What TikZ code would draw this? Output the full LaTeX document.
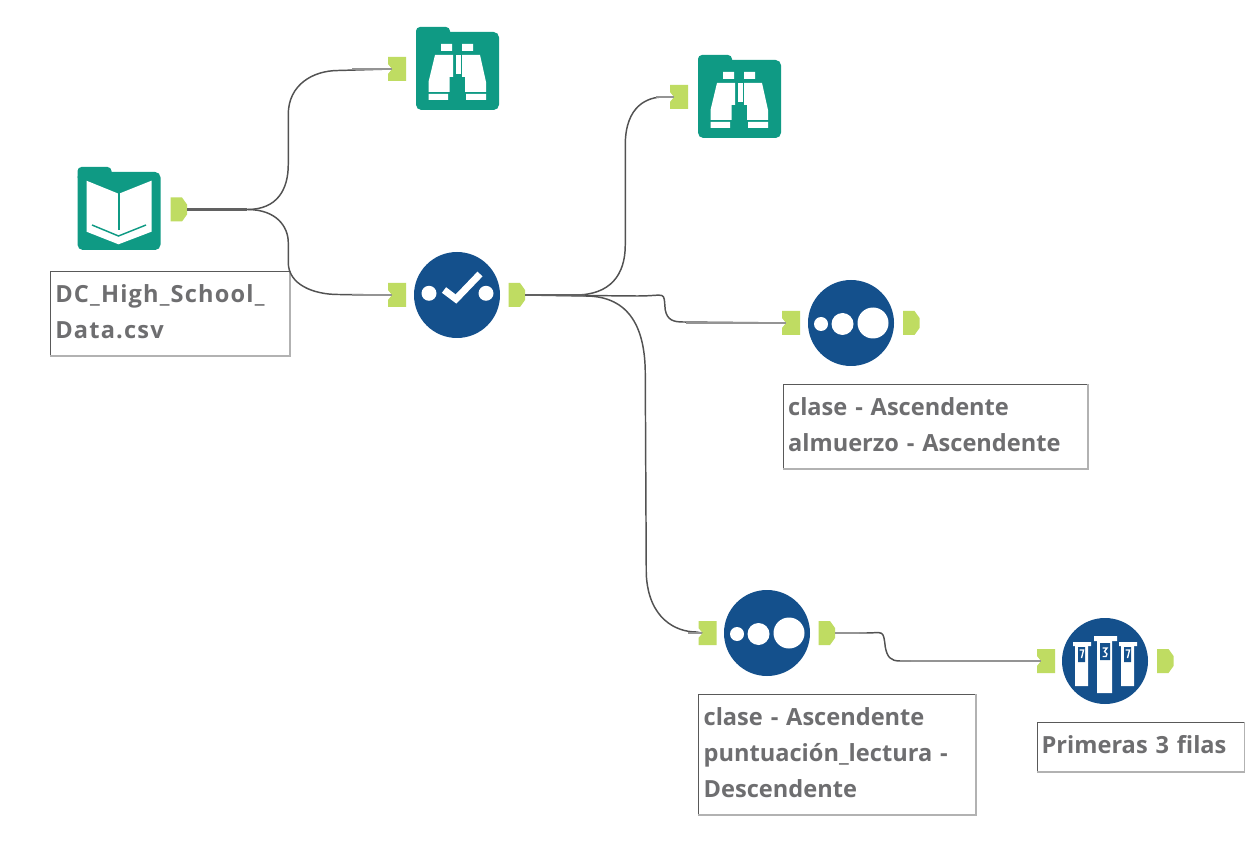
\documentclass[tikz,border=0pt]{standalone}
\usepackage{fontspec}
\setmainfont{Open Sans}
\definecolor{folderteal}{HTML}{0F9A84}
\definecolor{toolblue}{HTML}{14508C}
\definecolor{portgreen}{HTML}{BFDC62}
\definecolor{labelgray}{HTML}{6E6E70}
\newcommand{\inport}[3]{%
  \node[inportnode] (#1) at (#2,#3) {};
  \fill[portgreen,shift={(#2,#3)}] (-9,-12) -- (9,-12) -- (9,12) -- (-9,12) -- (-9,5) -- (-5,0) -- (-9,-5) -- cycle;}
\newcommand{\outport}[3]{%
  \node[outportnode] (#1) at (#2,#3) {};
  \fill[portgreen,shift={(#2,#3)}] (-8.5,-12) -- (3,-12) -- (8,-5) -- (8,5) -- (3,12) -- (-8.5,12) -- cycle;}
\newcommand{\foldershape}{%
  \fill[folderteal,rounded corners=4pt] (0,5) rectangle (83,83);
  \fill[folderteal,rounded corners=3pt] (0,0) rectangle (34,14);}
\newcommand{\binoculars}{%
  \foldershape
  \fill[white] (25,17) rectangle (36,24) (46,17) rectangle (57,24);
  \fill[white] (19,28) -- (37,28) -- (37,50) -- (33.5,50) -- (33.5,65) -- (12.5,65) -- (12.5,55) -- cycle;
  \fill[white] (64,28) -- (46,28) -- (46,50) -- (49,50) -- (49,65) -- (70,65) -- (70,55) -- cycle;
  \fill[white] (12.5,67) rectangle (32,73) (50,67) rectangle (70,73);
  \fill[white] (39.5,28) rectangle (44.5,47);}
\tikzset{
  x=0.75pt,y=-0.75pt,
  inportnode/.style={inner sep=0pt,minimum width=7.5pt,minimum height=18pt},
  outportnode/.style={inner sep=0pt,minimum width=12pt,minimum height=18pt},
  toolnode/.style={circle,fill=toolblue,inner sep=0pt,minimum size=64.5pt},
  foldernode/.style={inner sep=0pt,minimum size=62.25pt},
  wire/.style={draw=black!68,line width=1.1pt,line join=round},
  wirein/.style={draw=black!42,line width=1.8pt},
  wireout/.style={draw=black!62,line width=2pt},
  note/.style={draw=black!65,line width=0.7pt,fill=white,inner xsep=3pt,inner ysep=0pt,align=left,
    text=labelgray,font=\fontsize{17.7pt}{27pt}\selectfont\bfseries,anchor=north west,
    execute at end node={\par\vspace{3pt}}},
  noteshade/.style={draw=black!30,line width=1.3pt},
}
\begin{document}
\begin{tikzpicture}
\useasboundingbox[fill=white] (0,0) rectangle (1245,848);

% tools
\node[foldernode] (book) at (119,209) {};
\node[foldernode] (view1) at (457.5,68.5) {};
\node[foldernode] (view2) at (739.5,96.5) {};
\node[toolnode] (select) at (457,295) {};
\node[toolnode] (sortA) at (851,323) {};
\node[toolnode] (sortB) at (767,633) {};
\node[toolnode] (sample) at (1105,661) {};

% annotations
\node[note,minimum width=179.25pt,minimum height=63pt,text width=172pt] (lblbook) at (50,271)
  {\addfontfeature{LetterSpace=5}DC\_High\_School\_\\Data.csv};
\node[note,minimum width=228pt,minimum height=63pt,text width=221pt] (lblsortA) at (783,384)
  {clase - Ascendente\\almuerzo - Ascendente};
\node[note,minimum width=207.75pt,minimum height=90pt,text width=200pt] (lblsortB) at (698,694)
  {clase - Ascendente\\puntuación\_lectura -\\Descendente};
\node[note,minimum width=155.25pt,minimum height=36.75pt,text width=149pt] (lblsample) at (1037,722)
  {Primeras 3 filas};
\foreach \n in {lblbook,lblsortA,lblsortB,lblsample}
  \draw[noteshade] (\n.north east) -- (\n.south east) -- (\n.south west);

% ports
\outport{bookout}{179}{209.5}
\inport{viewAin}{397}{69}
\inport{viewBin}{679}{97}
\inport{selin}{397}{295}
\outport{selout}{517}{295}
\inport{sortAin}{791}{323}
\outport{sortAout}{911.5}{323}
\inport{sortBin}{707.5}{633}
\outport{sortBout}{827}{633}
\inport{samplein}{1046}{661}
\outport{sampleout}{1165.5}{661}

% connectors
\draw[wire] (bookout.east) -- ++(60,0) .. controls +(30,0) and +(0,25) .. ++(41,-45)
  -- ++(0,-50) .. controls +(0,-30) and +(-25,0) .. ++(50,-44) -- (viewAin.west);
\draw[wire] (bookout.east) -- ++(60,0) .. controls +(30,0) and +(0,-15) .. ++(41,33)
  -- ++(0,20) .. controls +(0,22) and +(-25,0) .. ++(50,32) -- (selin.west);
\draw[wire] (selout.east) -- ++(50,0) .. controls +(35,0) and +(0,30) .. ++(50,-50)
  -- ++(0,-100) .. controls +(0,-40) and +(-15,0) .. ++(38,-48) -- (viewBin.west);
\draw[wire] (selout.east) -- ++(112,1) .. controls +(30,0) and +(-2,-20) .. ++(28,14)
  .. controls +(2,10) and +(-10,0) .. ++(18,12) -- (sortAin.west);
\draw[wire] (selout.east) -- ++(60,1) .. controls +(45,0) and +(0,-45) .. ++(60,78)
  -- ++(1,200) .. controls +(2,45) and +(-20,0) .. ++(50,58) -- (sortBin.west);
\draw[wire] (sortBout.east) -- ++(30,0) .. controls +(18,0) and +(-2,-18) .. ++(20,14)
  .. controls +(2,10) and +(-10,0) .. ++(15,14) -- (samplein.west);
\draw[wireout] (bookout.east) -- ++(60,0);
\draw[wireout] (selout.east) -- ++(60,0);
\draw[wirein] (viewAin.west) -- ++(-40,0);
\draw[wirein] (selin.west) -- ++(-40,0);
\draw[wirein] (viewBin.west) -- ++(-18,0);
\draw[wirein] (sortAin.west) -- ++(-100,0);
\draw[wirein] (sortBin.west) -- ++(-14,0);
\draw[wirein] (sortBout.east) -- ++(24,0);
\draw[wirein] (samplein.west) -- ++(-130,0);

% book icon
\begin{scope}[shift={(77.5,167)}]
  \foldershape
  \fill[white] (9,13.7) -- (40,26.3) -- (42.5,26.3) -- (74,13.7) -- (74,64.7) -- (41,77.3) -- (9,64.7) -- cycle;
  \draw[folderteal,line width=1pt] (41.5,26) -- (41.5,63);
  \draw[folderteal,line width=1.1pt] (14.5,58) -- (41,69) -- (68.5,58);
\end{scope}

% browse icons
\begin{scope}[shift={(416,27)}]\binoculars\end{scope}
\begin{scope}[shift={(698,55)}]\binoculars\end{scope}

% select icon
\begin{scope}[shift={(select.center)}]
  \fill[white] (-28,-1.7) circle (7.5) (29,-1.7) circle (7.5);
  \draw[white,line width=5.2pt] (-13,-5) -- (-1,4) -- (23,-21);
\end{scope}

% sort icons
\foreach \t in {sortA,sortB}{
\begin{scope}[shift={(\t.center)}]
  \fill[white] (-30,1) circle (7) (-8.5,1) circle (11) (22,0) circle (15.5);
\end{scope}}

% sample icon
\begin{scope}[shift={(sample.center)}]
  \fill[white] (-30,-18) rectangle (-17,25) (-8,-22) rectangle (7,32) (16,-18) rectangle (29,25);
  \fill[white] (-32,-19) rectangle (-14,-15) (-11,-25) rectangle (12,-20) (14,-19) rectangle (32,-15);
  \fill[toolblue] (-27,-14) rectangle (-20,1) (-5,-18) rectangle (5,-1) (19,-14) rectangle (26,1);
  \draw[white,line width=1pt] (-25.5,-11) -- (-21.5,-11) -- (-23.5,-3)
    (20.5,-11) -- (24.5,-11) -- (22.5,-3)
    (-2.5,-13) -- (2,-13) -- (-0.5,-9.5) -- (2,-7) -- (1,-4.5) -- (-2.5,-4.5);
\end{scope}
\end{tikzpicture}
\end{document}
